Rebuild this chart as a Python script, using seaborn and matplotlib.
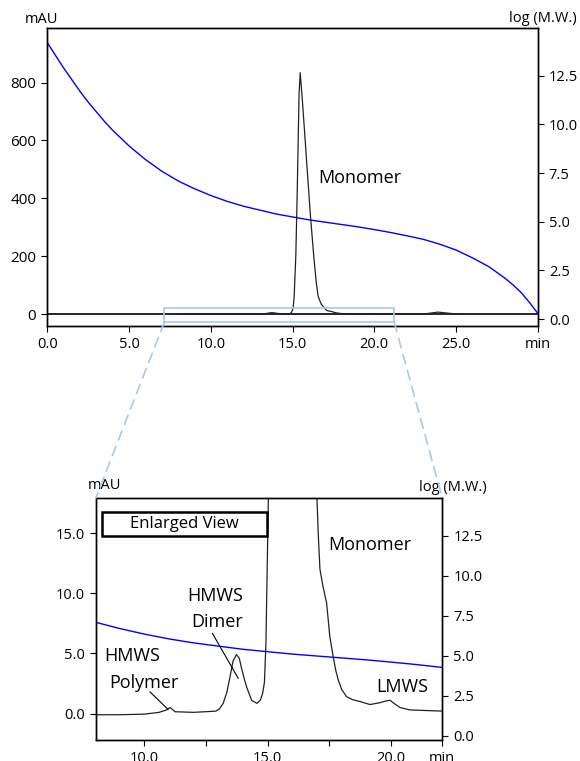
import matplotlib
matplotlib.use('Agg')
import matplotlib.pyplot as plt
import seaborn as sns
import pandas as pd
from matplotlib.patches import Rectangle, ConnectionPatch

# data
mw_time = [0, 0.5, 1, 1.5, 2, 2.5, 3, 3.5, 4, 5, 6, 7, 8, 9, 10,
           11, 12, 13, 14, 15, 16, 17, 18, 19, 20,
           21, 22, 23, 24, 25, 26, 27, 28, 28.5, 29, 29.5, 30]
log_mw = [14.2, 13.55, 12.9, 12.3, 11.7, 11.15, 10.65, 10.15, 9.7, 8.9, 8.2, 7.6, 7.1, 6.7, 6.35,
          6.05, 5.8, 5.6, 5.4, 5.25, 5.1, 4.98, 4.86, 4.74, 4.6,
          4.45, 4.28, 4.1, 3.85, 3.55, 3.15, 2.7, 2.1, 1.75, 1.35, 0.85, 0.3]

trace_time = [8.0, 9.0, 10.0, 10.6, 10.9, 11.05, 11.25, 12.0, 12.9, 13.05, 13.2,
              13.35, 13.47, 13.6, 13.74, 13.85, 13.95, 14.05, 14.15, 14.35, 14.56, 14.7, 14.8, 14.87, 14.93,
              15.03, 15.1, 15.2, 15.28, 15.33, 15.4, 15.47, 15.6, 15.75, 15.9,
              16.1, 16.3, 16.45, 16.57, 16.75, 16.98, 17.05, 17.12, 17.25, 17.39, 17.52, 17.66,
              17.76, 17.86, 18.0, 18.2, 18.45, 18.74, 19.15, 19.55, 19.8, 19.96, 20.15, 20.37, 20.77, 22.1, 23.0,
              23.5, 23.9, 24.4, 25.0]
trace_mau = [-0.1, -0.1, -0.05, 0.1, 0.3, 0.5, 0.15, 0.1, 0.2, 0.4, 0.85,
             1.8, 3.0, 4.4, 4.9, 4.6, 3.7, 2.9, 2.2, 1.1, 0.85, 1.1, 1.7, 2.6, 5.8,
             18, 60, 200, 400, 550, 760, 834, 740, 620, 498,
             337, 200, 110, 61, 35, 19, 15, 12, 10.5, 9.2, 6.4, 4.7,
             3.6, 2.8, 2.0, 1.4, 1.15, 1.0, 0.75, 0.9, 1.05, 1.1, 0.8, 0.5, 0.3, 0.2, 0.3,
             4.0, 7.0, 4.0, 0.5]

top_xticks = [0, 5, 10, 15, 20, 25, 30]
top_xlabels = ['0.0', '5.0', '10.0', '15.0', '20.0', '25.0', 'min']
top_yticks = [0, 200, 400, 600, 800]
right_ticks = [0.0, 2.5, 5.0, 7.5, 10.0, 12.5]
bot_xticks = [10, 12.5, 15, 17.5, 20, 22.08]
bot_xlabels = ['10.0', '', '15.0', '', '20.0', 'min']
bot_yticks = [0, 5, 10, 15]

mw = pd.DataFrame({'time': mw_time, 'logmw': log_mw})
tr = pd.DataFrame({'time': trace_time, 'mau': trace_mau})

sns.set_style("ticks")
plt.rcParams['font.family'] = ['Open Sans', 'DejaVu Sans']
plt.rcParams['xtick.major.size'] = 4.5
plt.rcParams['ytick.major.size'] = 4.5
plt.rcParams['axes.linewidth'] = 1.0
for k in ['text.color', 'axes.labelcolor', 'xtick.color', 'ytick.color', 'axes.edgecolor']:
    plt.rcParams[k] = 'black'

fig = plt.figure(figsize=(5.8, 7.61), dpi=100)
ax1 = fig.add_axes([0.0816, 0.572, 0.8455, 0.391])
ax2 = fig.add_axes([0.165, 0.0276, 0.5976, 0.3176])

blue = '#0000ff'
zoom_col = '#aec6ef'

# ---- top panel
ax1.axhline(0, color='black', lw=1.2, zorder=1)
sns.lineplot(data=tr, x='time', y='mau', ax=ax1, color='#222222', lw=0.9)
ax1.set_xlim(0, 30)
ax1.set_ylim(-40, 988)
ax1.set_xticks(top_xticks)
ax1.set_xticklabels(top_xlabels, fontsize=10.5)
ax1.set_yticks(top_yticks)
ax1.set_yticklabels([str(v) for v in top_yticks], fontsize=11)
ax1.set_xlabel('')
ax1.set_ylabel('')
ax1.text(19.13, 471, 'Monomer', fontsize=13, ha='center', va='center')
ax1.text(-0.011, 1.028, 'mAU', transform=ax1.transAxes, fontsize=10.5,
         ha='center', va='center')
ax1.text(1.01, 1.034, 'log (M.W.)', transform=ax1.transAxes, fontsize=10.5,
         ha='center', va='center')
ax1.add_patch(Rectangle((7.16, -27.6), 14.06, 50.4, fill=False,
                        ec=zoom_col, lw=1.2, zorder=3))

ax1r = ax1.twinx()
sns.lineplot(data=mw, x='time', y='logmw', ax=ax1r, color=blue, lw=1.0)
ax1r.set_ylim(-0.34, 14.95)
ax1r.set_yticks(right_ticks)
ax1r.set_yticklabels([f'{v:.1f}' for v in right_ticks], fontsize=10.5)
ax1r.set_ylabel('')

# ---- bottom panel (enlarged view)
sns.lineplot(data=tr, x='time', y='mau', ax=ax2, color='#222222', lw=0.9)
ax2.set_xlim(8.03, 22.08)
ax2.set_ylim(-2.2, 17.9)
ax2.set_xticks(bot_xticks)
ax2.set_xticklabels(bot_xlabels, fontsize=10.5)
ax2.set_yticks(bot_yticks)
ax2.set_yticklabels([f'{v:.1f}' for v in bot_yticks], fontsize=10.5)
ax2.set_xlabel('')
ax2.set_ylabel('')
ax2.text(0.025, 1.051, 'mAU', transform=ax2.transAxes, fontsize=10.5,
         ha='center', va='center')
ax2.text(1.031, 1.046, 'log (M.W.)', transform=ax2.transAxes, fontsize=10.5,
         ha='center', va='center')

ax2.add_patch(Rectangle((0.017, 0.845), 0.476, 0.097, transform=ax2.transAxes,
                        fill=False, ec='black', lw=1.8, zorder=4))
ax2.text(0.255, 0.894, 'Enlarged View', transform=ax2.transAxes, fontsize=12,
         ha='center', va='center')
ax2.text(19.15, 14.03, 'Monomer', fontsize=13, ha='center', va='center')
ax2.text(12.87, 9.78, 'HMWS', fontsize=13, ha='center', va='center')
ax2.text(12.95, 7.63, 'Dimer', fontsize=13, ha='center', va='center')
ax2.plot([12.76, 13.81], [6.67, 2.92], color='black', lw=0.8)
ax2.text(9.52, 4.8, 'HMWS', fontsize=13, ha='center', va='center')
ax2.text(9.99, 2.58, 'Polymer', fontsize=13, ha='center', va='center')
ax2.plot([10.23, 10.97], [1.8, 0.33], color='black', lw=0.8)
ax2.text(20.45, 2.17, 'LMWS', fontsize=13, ha='center', va='center')

ax2r = ax2.twinx()
sns.lineplot(data=mw, x='time', y='logmw', ax=ax2r, color=blue, lw=1.0)
ax2r.set_ylim(-0.27, 14.84)
ax2r.set_yticks(right_ticks)
ax2r.set_yticklabels([f'{v:.1f}' for v in right_ticks], fontsize=10.5)
ax2r.set_ylabel('')

# dashed connectors between zoom box and enlarged panel
for xa, xb in [(7.16, 0), (21.22, 1)]:
    con = ConnectionPatch(xyA=(xa, -27.6), coordsA=ax1.transData,
                          xyB=(xb, 1), coordsB=ax2.transAxes,
                          color=zoom_col, lw=1.2, ls=(0, (6, 4)))
    fig.add_artist(con)

fig.savefig('out.png', dpi=100)
